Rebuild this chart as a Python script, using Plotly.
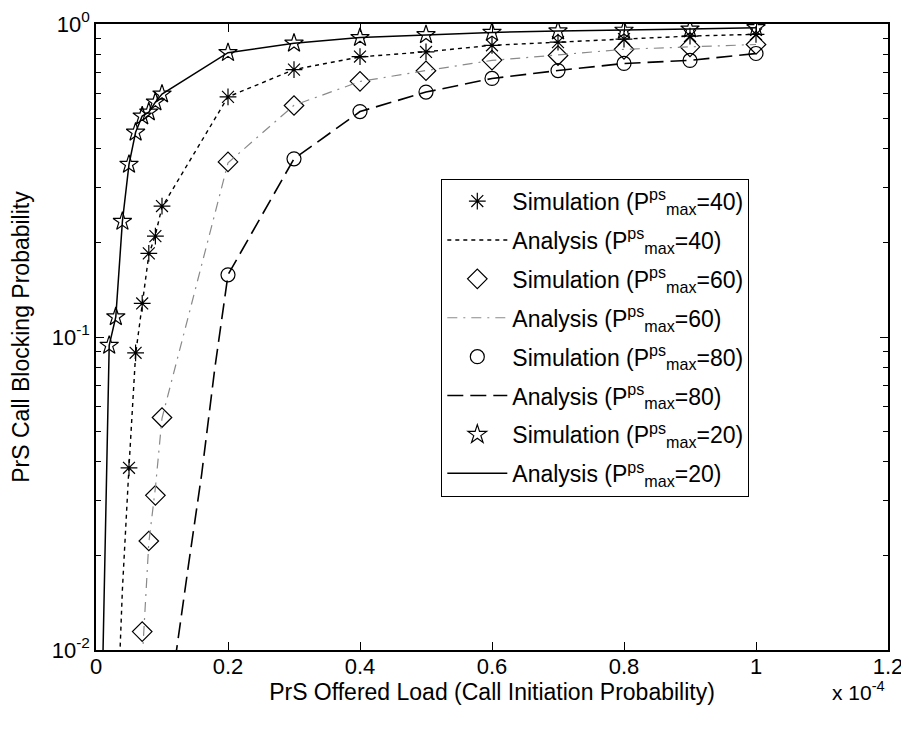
import plotly.graph_objects as go

# ---- data (x in units of 1e-4) ----
x_sim40 = [0.05, 0.06, 0.07, 0.08, 0.09, 0.10, 0.2, 0.3, 0.4, 0.5, 0.6, 0.7, 0.8, 0.9, 1.0]
y_sim40 = [0.0382, 0.089, 0.128, 0.185, 0.21, 0.262, 0.585, 0.715, 0.787, 0.814, 0.855, 0.875, 0.895, 0.915, 0.927]

x_ana40 = [0.03, 0.04, 0.05, 0.06, 0.07, 0.08, 0.09, 0.10, 0.2, 0.3, 0.4, 0.5, 0.6, 0.7, 0.8, 0.9, 1.0]
y_ana40 = [0.0045, 0.0156, 0.0385, 0.088, 0.127, 0.183, 0.212, 0.26, 0.585, 0.715, 0.785, 0.815, 0.855, 0.877, 0.895, 0.915, 0.927]

x_sim60 = [0.07, 0.08, 0.09, 0.10, 0.2, 0.3, 0.4, 0.5, 0.6, 0.7, 0.8, 0.9, 1.0]
y_sim60 = [0.01145, 0.0223, 0.0312, 0.0553, 0.3625, 0.549, 0.656, 0.709, 0.767, 0.793, 0.83, 0.845, 0.86]

x_ana60 = [0.07, 0.08, 0.09, 0.10, 0.2, 0.3, 0.4, 0.5, 0.6, 0.7, 0.8, 0.9, 1.0]
y_ana60 = [0.0093, 0.022, 0.033, 0.055, 0.36, 0.55, 0.655, 0.71, 0.765, 0.795, 0.83, 0.845, 0.86]

x_sim80 = [0.2, 0.3, 0.4, 0.5, 0.6, 0.7, 0.8, 0.9, 1.0]
y_sim80 = [0.158, 0.371, 0.525, 0.606, 0.67, 0.71, 0.748, 0.765, 0.805]

x_ana80 = [0.11, 0.12, 0.14, 0.16, 0.18, 0.2, 0.3, 0.4, 0.5, 0.6, 0.7, 0.8, 0.9, 1.0]
y_ana80 = [0.0066, 0.0094, 0.0186, 0.0363, 0.0794, 0.158, 0.371, 0.525, 0.606, 0.67, 0.71, 0.748, 0.765, 0.805]

x_sim20 = [0.02, 0.03, 0.04, 0.05, 0.06, 0.07, 0.08, 0.09, 0.10, 0.2, 0.3, 0.4, 0.5, 0.6, 0.7, 0.8, 0.9, 1.0]
y_sim20 = [0.094, 0.116, 0.234, 0.356, 0.451, 0.508, 0.523, 0.563, 0.597, 0.81, 0.868, 0.905, 0.924, 0.94, 0.95, 0.955, 0.963, 0.973]

x_ana20 = [0.01, 0.02, 0.03, 0.04, 0.05, 0.06, 0.07, 0.08, 0.09, 0.10, 0.2, 0.3, 0.4, 0.5, 0.6, 0.7, 0.8, 0.9, 1.0]
y_ana20 = [0.0085, 0.094, 0.116, 0.234, 0.356, 0.451, 0.508, 0.523, 0.563, 0.597, 0.81, 0.868, 0.905, 0.924, 0.94, 0.95, 0.955, 0.963, 0.973]

x_tickvals = [0, 0.2, 0.4, 0.6, 0.8, 1.0, 1.2]
x_ticktext = ["0", "0.2", "0.4", "0.6", "0.8", "1", "1.2"]
y_tickvals = [0.01, 0.1, 1]
y_ticktext = ["10<sup>-2</sup>", "10<sup>-1</sup>", "10<sup>0</sup>"]
y_minor = [a * 10 ** e for e in (-2, -1) for a in range(2, 10)]

P = "P<sup>ps</sup><sub>max</sub>"

fig = go.Figure()

def sim(x, y, sym, size, name):
    fig.add_trace(go.Scatter(x=x, y=y, mode="markers", name=name, legendgroup=name,
                             marker=dict(symbol=sym, size=size, color="black",
                                         line=dict(color="black", width=1.2))))

def ana(x, y, dash, color, width, name):
    fig.add_trace(go.Scatter(x=x, y=y, mode="lines", name=name, legendgroup=name,
                             line=dict(color=color, dash=dash, width=width)))

sim(x_sim40, y_sim40, "asterisk-open", 14, f"Simulation ({P}=40)")
ana(x_ana40, y_ana40, "4px,4px", "black", 1.4, f"Analysis ({P}=40)")
sim(x_sim60, y_sim60, "diamond-open", 15, f"Simulation ({P}=60)")
ana(x_ana60, y_ana60, "10px,6px,2px,6px", "#8a8a8a", 1.2, f"Analysis ({P}=60)")
sim(x_sim80, y_sim80, "circle-open", 14, f"Simulation ({P}=80)")
ana(x_ana80, y_ana80, "16px,7px", "black", 1.6, f"Analysis ({P}=80)")
sim(x_sim20, y_sim20, "star-open", 14, f"Simulation ({P}=20)")
ana(x_ana20, y_ana20, "solid", "black", 1.5, f"Analysis ({P}=20)")

axis_common = dict(showline=True, linecolor="black", linewidth=1.5, mirror="ticks",
                   ticks="inside", tickcolor="black", ticklen=8, tickwidth=1.2,
                   showgrid=False, zeroline=False, automargin=False,
                   ticklabeloverflow="allow",
                   tickfont=dict(size=22, color="black"))

fig.update_xaxes(range=[0, 1.2], tickvals=x_tickvals, ticktext=x_ticktext,
                 ticklabelstandoff=-4,
                 title=dict(text="PrS Offered Load (Call Initiation Probability)",
                            font=dict(size=23, color="black"), standoff=0),
                 **axis_common)
fig.update_yaxes(type="log", range=[-2, 0], tickvals=y_tickvals, ticktext=y_ticktext,
                 minor=dict(tickvals=y_minor, ticks="inside", ticklen=5, tickcolor="black"),
                 title=dict(text="PrS Call Blocking Probability",
                            font=dict(size=23, color="black"), standoff=17),
                 **axis_common)

fig.add_annotation(text="x 10<sup>-4</sup>", xref="paper", yref="paper",
                   x=0.963, y=-0.066, xanchor="center", yanchor="middle",
                   showarrow=False, font=dict(size=21, color="black"))

# page body has an 8px margin: size/margins chosen so the plot area lands at
# x 96..888, y 24..650 in the 909x731 window
fig.update_layout(
    width=901, height=715,
    margin=dict(l=88, r=21, t=16, b=73),
    paper_bgcolor="white", plot_bgcolor="white",
    font=dict(family="Arial, Liberation Sans, sans-serif", color="black"),
    showlegend=True,
    legend=dict(x=0.436, y=0.753, xanchor="left", yanchor="top",
                bgcolor="white", bordercolor="black", borderwidth=1,
                font=dict(size=23, color="black"), itemwidth=60,
                traceorder="grouped", tracegroupgap=6),
)

fig.write_html("out.html")
